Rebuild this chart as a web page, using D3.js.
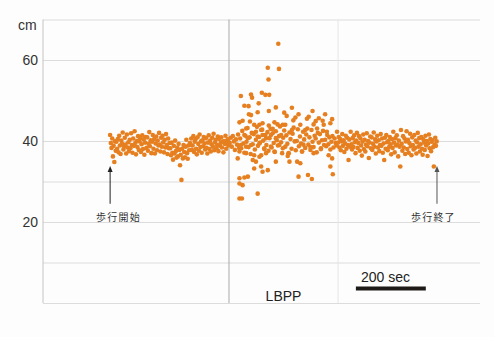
<!DOCTYPE html>
<html><head><meta charset="utf-8">
<script src="https://cdn.jsdelivr.net/npm/d3@7"></script>
<style>
html,body{margin:0;padding:0;background:#fdfdfd;}
svg{display:block;font-family:"Liberation Sans",Arial,sans-serif;}
</style></head>
<body><svg id="c" width="494" height="337"></svg>
<script>
// ---- data ----
const yTickLabels = [20, 40, 60];
const gridValues = [0, 10, 20, 30, 40, 60, 70];
const yUnit = "cm";
const lbppRange = [532, 844];          // seconds
const lbppLabel = "LBPP";
const scaleBarSec = [895, 1095];       // 200 sec
const scaleBarLabel = "200 sec";
const markerTimes = [192, 1127];
const markerLabels = ["歩行開始", "歩行終了"];
const markerArrowVals = [24.5, 33.8];  // arrow tail / head (cm)

// walking before LBPP: t = 192 + 2*i
const preStart = 192, preStep = 2;
const preValues = [41.5,39.5,38.3,40.6,36.2,38.8,34.8,39.9,37.6,
39.8,38.1,40.5,37.2,41.3,38.9,36.8,40.1,39.4,42.1,37.9,38.6,40.8,39.1,36.9,41.6,38.4,39.7,37.5,40.3,
38.2,41.9,39.0,37.1,40.6,38.8,42.4,39.5,36.7,40.0,38.5,41.2,37.8,39.9,40.7,37.3,39.2,41.4,38.0,40.4,
36.6,39.6,41.0,38.3,40.9,37.6,39.3,42.2,38.7,40.2,37.0,39.8,41.5,38.1,40.5,36.9,39.4,41.1,37.7,40.1,
38.9,42.0,39.1,37.4,40.8,38.6,41.3,39.7,37.2,40.3,38.4,41.7,39.0,36.8,40.6,38.2,39.5,
38.2,36.5,39.6,37.1,35.4,38.8,36.9,40.1,37.5,35.9,38.4,36.2,39.3,37.8,34.0,36.6,30.4,38.1,35.7,39.0,37.3,36.0,38.6,40.3,37.0,35.6,38.9,37.7,39.5,
39.1,40.6,37.8,38.9,41.2,37.3,39.8,40.4,38.1,36.7,40.9,39.3,37.6,41.6,38.5,39.9,37.1,40.2,38.7,41.0,
39.4,37.9,40.7,38.3,36.9,39.6,41.4,38.0,40.1,37.4,39.2,40.8,38.6,41.8,37.7,39.7,40.3,38.2,39.0,41.1,
37.5,40.5,38.8,39.5,40.9,38.4,39.8,37.2,40.0,39.3,41.3,38.1,39.6,40.4,38.9,39.7];

// LBPP dense band: t = 534 + 3*i
const lbppBandStart = 534, lbppBandStep = 3;
const lbppBandValues = [39.5,40.8,38.6,41.2,39.9,37.8,40.4,39.1,41.6,38.3,
40.6,38.2,42.5,39.4,37.1,41.3,39.8,43.2,38.5,40.9,36.8,42.0,39.2,41.7,37.9,40.3,43.5,38.8,41.0,39.6,
36.5,42.8,40.1,38.0,41.5,39.0,42.2,37.6,40.7,43.0,38.4,41.9,39.5,37.3,42.4,40.2,38.9,41.2,43.6,39.7,
37.0,40.8,42.6,38.6,41.4,39.3,36.9,42.1,40.5,38.1,41.8,43.3,39.9,37.7,40.0,42.9,38.7,41.1,39.4,37.4,
42.3,40.4,38.3,41.6,43.1,39.1,40.9,37.8,42.7,39.8,38.5,41.3,40.6,37.2,42.0,39.6,41.7,38.2,40.2,42.5,39.0,
40.3,38.7,41.5,39.2,40.9,37.9,39.8,41.2,38.4,40.6,39.5,38.9];

// LBPP scattered points (seconds, cm)
const lbppScatterT = [673,643,675,645,566,595,598,626,636,647,576,588,617,666,646,589,595,614,562,571,
592,604,619,628,646,662,671,686,581,609,624,657,576,586,600,614,628,638,652,666,681,566,581,595,619,
633,652,676,686,562,581,604,619,638,662,557,600,609,666,604,624,643,628,562,576,586,571,562,614,562,569,
712,771,807,731,722,760,789,827,693,736,774,803,822,712,750,784,812,841,703,741,774,817,705,727,736,827,
822,731,758,769,829,697,700,716,745,755,765,780,795,800,690];
const lbppScatterV = [64,58.1,57.8,55.2,51.1,51.5,50.7,51.9,51.4,51.4,48.7,48.6,49.3,48.3,47.4,46.6,46.4,47.1,44.6,45,
44.8,44,44,44.4,43.8,44.6,44.1,44,43.1,42.3,42.7,43,41.5,40.7,41.9,41.1,41.5,40.7,41.5,40.7,41.5,39,38.6,39,39.4,
38.2,38.6,39,38.2,37.4,37,36.5,36.1,37,37.4,35.7,35.3,34.9,34.9,33.2,33.7,32.8,32.4,30.8,31,31.2,29.1,29.5,27,25.8,25.8,
48.2,47.4,46.6,46.6,45.8,46,45.6,45.4,44,44,44.1,44,44.4,42.7,42.7,43.1,42.3,42.3,37,37.4,37,36.5,34.9,34.9,34.5,35.7,
33.7,31.2,31.6,30.6,31.8,46.2,36.3,45.1,39.1,45.5,38.5,44.9,38.0,45.0,47.0];

// walking after LBPP: t = 844 + 2*i
const postStart = 844, postStep = 2;
const postValues = [39.6,41.0,38.4,40.5,37.7,39.9,41.7,38.8,40.2,37.3,39.4,41.3,38.1,40.8,39.0,35.3,40.4,38.6,
42.3,39.2,37.9,40.7,38.5,41.4,39.7,37.0,40.1,42.0,38.3,39.5,41.2,37.6,40.6,38.9,36.4,39.8,41.6,38.0,
40.3,37.4,39.1,41.9,38.7,40.0,35.8,39.6,41.1,38.2,40.9,37.8,39.3,42.1,38.6,40.4,36.9,39.9,41.3,38.4,
40.2,37.5,39.0,41.7,38.8,40.6,37.1,39.4,35.3,40.8,38.1,41.5,39.7,37.7,40.0,38.5,41.0,39.2,36.7,40.5,
38.3,42.3,39.6,37.2,40.7,38.9,41.4,39.1,36.2,40.1,38.6,33.7,
42.7,39.3,37.6,41.2,38.4,40.6,36.8,39.9,42.4,38.0,40.3,37.1,39.5,41.8,38.7,36.5,40.9,39.0,37.9,41.5,
38.3,40.1,36.9,39.7,42.0,38.6,40.7,37.4,39.2,41.0,38.1,36.6,40.4,39.6,37.8,41.3,38.9,40.0,36.3,39.4,
41.6,38.2,40.5,37.5,39.8,40.2,38.5,33.7,39.1,40.8,38.8,39.9];

// ---- chart ----
const svg = d3.select("#c");
const L = 43, R = 480, T = 19.5, B = 303;
const x = d3.scaleLinear().domain([0, 1250]).range([L, R]);
const y = d3.scaleLinear().domain([0, 70]).range([B, T]);
const gridColor = "#dcdcdc";
const dotColor = "#e67f1f";

// horizontal gridlines
svg.append("g").attr("transform", `translate(${L},0)`)
  .call(d3.axisLeft(y).tickValues(gridValues).tickSize(-(R - L)).tickFormat(""))
  .call(g => g.select(".domain").remove())
  .call(g => g.selectAll("line").attr("stroke", gridColor));

// LBPP region lines
svg.append("line").attr("x1", x(lbppRange[1])).attr("x2", x(lbppRange[1]))
  .attr("y1", y(70)).attr("y2", y(0)).attr("stroke", "#e6e6e6");
svg.append("line").attr("x1", x(lbppRange[0])).attr("x2", x(lbppRange[0]))
  .attr("y1", y(70)).attr("y2", y(0)).attr("stroke", "#a9a9a9");
// left axis line
svg.append("line").attr("x1", L).attr("x2", L).attr("y1", y(70)).attr("y2", y(0)).attr("stroke", "#c4c4c4");

// y labels
svg.append("g").attr("transform", `translate(${L},0)`)
  .call(d3.axisLeft(y).tickValues(yTickLabels).tickSize(0).tickPadding(5))
  .call(g => g.select(".domain").remove())
  .call(g => g.selectAll("text").attr("font-size", 14).attr("fill", "#333")
        .attr("font-family", '"Liberation Sans",Arial,sans-serif'));
svg.append("text").attr("x", 18).attr("y", 30).attr("font-size", 14).attr("fill", "#333").text(yUnit);

// points
const pts = [];
preValues.forEach((v, i) => pts.push([preStart + preStep * i, v]));
lbppBandValues.forEach((v, i) => pts.push([lbppBandStart + lbppBandStep * i, v]));
lbppScatterT.forEach((t, i) => pts.push([t, lbppScatterV[i]]));
postValues.forEach((v, i) => pts.push([postStart + postStep * i, v]));
svg.append("g").selectAll("circle").data(pts).join("circle")
  .attr("cx", d => x(d[0])).attr("cy", d => y(d[1])).attr("r", 2.3).attr("fill", dotColor);

// arrows + labels
const labelOffsets = [-14, -26];
markerTimes.forEach((t, i) => {
  const xx = x(t), y0 = y(markerArrowVals[0]), y1 = y(markerArrowVals[1]);
  const col = i === 0 ? "#222" : "#555";
  svg.append("line").attr("x1", xx).attr("x2", xx).attr("y1", y0).attr("y2", y1 + 5)
    .attr("stroke", col).attr("stroke-width", 1);
  svg.append("path").attr("d", `M${xx},${y1} L${xx - 2.5},${y1 + 6} L${xx + 2.5},${y1 + 6} Z`).attr("fill", col);
  svg.append("text").attr("x", xx + labelOffsets[i]).attr("y", 221)
    .attr("font-family", '"Noto Sans CJK JP",sans-serif').attr("font-size", 10)
    .attr("letter-spacing", 1.2).attr("fill", "#333").text(markerLabels[i]);
});

// LBPP label
svg.append("text").attr("x", (x(lbppRange[0]) + x(lbppRange[1])) / 2).attr("y", 301)
  .attr("text-anchor", "middle").attr("font-size", 14).attr("fill", "#222").text(lbppLabel);

// scale bar
svg.append("rect").attr("x", x(scaleBarSec[0])).attr("width", x(scaleBarSec[1]) - x(scaleBarSec[0]))
  .attr("y", 286.5).attr("height", 4).attr("fill", "#1e1a18");
svg.append("text").attr("x", x(scaleBarSec[0]) + 5).attr("y", 281.5)
  .attr("font-size", 14).attr("fill", "#222").text(scaleBarLabel);
</script></body></html>
